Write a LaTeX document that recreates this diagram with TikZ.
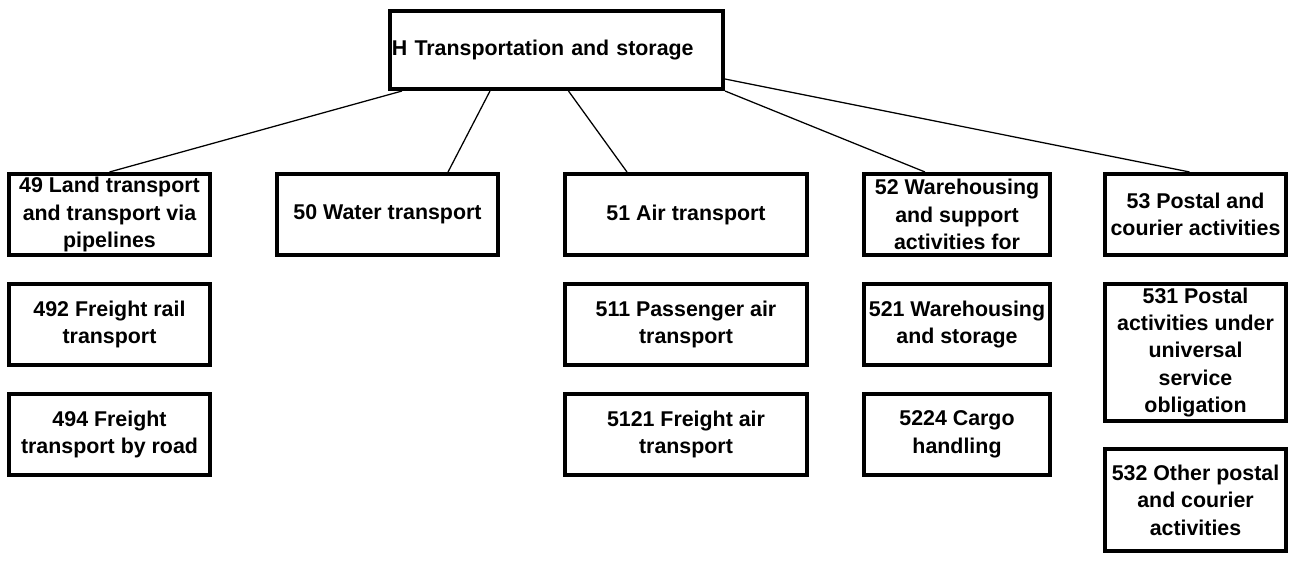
\documentclass[tikz,border=0pt]{standalone}
\usepackage{fontspec}
\setmainfont{Liberation Sans}
\begin{document}
\begin{tikzpicture}[x=0.025cm,y=-0.025cm,
  box/.style={draw,line width=2.85pt,minimum height=2.025cm,inner sep=0pt,align=center,font=\fontsize{15.2}{19.5}\selectfont\bfseries},
  link/.style={line width=0.9pt}]
\useasboundingbox (0,0) rectangle (1293,560);
\node[box,minimum width=8.325cm,minimum height=1.95cm,text width=8.225cm,align=left] (H) at (556.5,50) {H Transportation and storage};
\node[box,minimum width=5.025cm] (n49) at (109.5,214.5) {49 Land transport\\and transport via\\pipelines};
\node[box,minimum width=5.525cm] (n50) at (387.5,214.5) {50 Water transport};
\node[box,minimum width=6.05cm] (n51) at (686,214.5) {51 Air transport};
\node[box,minimum width=4.65cm] (n52) at (957,214.5) {52 Warehousing\\and support\\activities for};
\node[box,minimum width=4.525cm] (n53) at (1195.5,214.5) {53 Postal and\\courier activities};
\node[box,minimum width=5.025cm] (n492) at (109.5,324.5) {492 Freight rail\\transport};
\node[box,minimum width=5.025cm] (n494) at (109.5,434.5) {494 Freight\\transport by road};
\node[box,minimum width=6.05cm] (n511) at (686,324.5) {511 Passenger air\\transport};
\node[box,minimum width=6.05cm] (n5121) at (686,434.5) {5121 Freight air\\transport};
\node[box,minimum width=4.65cm] (n521) at (957,324.5) {521 Warehousing\\and storage};
\node[box,minimum width=4.65cm] (n5224) at (957,434.5) {5224 Cargo\\handling};
\node[box,minimum width=4.525cm,minimum height=3.425cm] (n531) at (1195.5,352.5) {531 Postal\\activities under\\universal\\service\\obligation};
\node[box,minimum width=4.525cm,minimum height=2.55cm] (n532) at (1195.5,500) {532 Other postal\\and courier\\activities};
\draw[link] ([xshift=0.35cm]H.south west) -- (n49.north);
\draw[link] ([xshift=2.55cm]H.south west) -- ([xshift=-1.3cm]n50.north east);
\draw[link] ([xshift=0.3cm]H.south) -- ([xshift=1.6cm]n51.north west);
\draw[link] (H.south east) -- ([xshift=-0.8cm]n52.north);
\draw[link] ([yshift=0.3cm]H.south east) -- ([xshift=-0.15cm]n53.north);
\end{tikzpicture}
\end{document}
